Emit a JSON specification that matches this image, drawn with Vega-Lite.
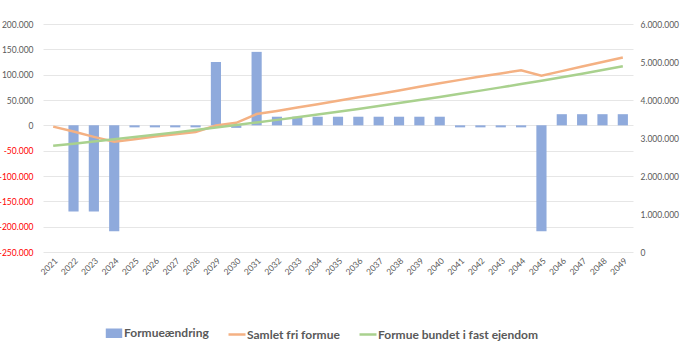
{
  "$schema": "https://vega.github.io/schema/vega-lite/v6.json",
  "width": 590,
  "height": 228,
  "autosize": {"type": "none"},
  "padding": {"left": 43, "top": 24, "right": 54, "bottom": 99},
  "background": "white",
  "config": {
    "locale": {"number": {"decimal": ",", "thousands": ".", "grouping": [3], "currency": ["", " kr."], "minus": "-"}},
    "view": {"stroke": null},
    "font": "Lato",
    "axis": {"labelFont": "Lato", "labelColor": "#595959", "labelFontSize": 8.5, "domain": false, "ticks": false, "title": null}
  },
  "datasets": {
    "main": [
      {"year": "2021", "series": "Formueændring", "value": 0},
      {"year": "2022", "series": "Formueændring", "value": -170000},
      {"year": "2023", "series": "Formueændring", "value": -170000},
      {"year": "2024", "series": "Formueændring", "value": -209000},
      {"year": "2025", "series": "Formueændring", "value": -4000},
      {"year": "2026", "series": "Formueændring", "value": -4000},
      {"year": "2027", "series": "Formueændring", "value": -4000},
      {"year": "2028", "series": "Formueændring", "value": -4000},
      {"year": "2029", "series": "Formueændring", "value": 125000},
      {"year": "2030", "series": "Formueændring", "value": -5000},
      {"year": "2031", "series": "Formueændring", "value": 145000},
      {"year": "2032", "series": "Formueændring", "value": 17000},
      {"year": "2033", "series": "Formueændring", "value": 17000},
      {"year": "2034", "series": "Formueændring", "value": 17000},
      {"year": "2035", "series": "Formueændring", "value": 17000},
      {"year": "2036", "series": "Formueændring", "value": 17000},
      {"year": "2037", "series": "Formueændring", "value": 17000},
      {"year": "2038", "series": "Formueændring", "value": 17000},
      {"year": "2039", "series": "Formueændring", "value": 17000},
      {"year": "2040", "series": "Formueændring", "value": 17000},
      {"year": "2041", "series": "Formueændring", "value": -4000},
      {"year": "2042", "series": "Formueændring", "value": -4000},
      {"year": "2043", "series": "Formueændring", "value": -4000},
      {"year": "2044", "series": "Formueændring", "value": -4000},
      {"year": "2045", "series": "Formueændring", "value": -209000},
      {"year": "2046", "series": "Formueændring", "value": 22000},
      {"year": "2047", "series": "Formueændring", "value": 22000},
      {"year": "2048", "series": "Formueændring", "value": 22000},
      {"year": "2049", "series": "Formueændring", "value": 22000},

      {"year": "2021", "series": "Samlet fri formue", "value": 3300000},
      {"year": "2022", "series": "Samlet fri formue", "value": 3170000},
      {"year": "2023", "series": "Samlet fri formue", "value": 3030000},
      {"year": "2024", "series": "Samlet fri formue", "value": 2900000},
      {"year": "2025", "series": "Samlet fri formue", "value": 2970000},
      {"year": "2026", "series": "Samlet fri formue", "value": 3040000},
      {"year": "2027", "series": "Samlet fri formue", "value": 3100000},
      {"year": "2028", "series": "Samlet fri formue", "value": 3160000},
      {"year": "2029", "series": "Samlet fri formue", "value": 3330000},
      {"year": "2030", "series": "Samlet fri formue", "value": 3400000},
      {"year": "2031", "series": "Samlet fri formue", "value": 3630000},
      {"year": "2032", "series": "Samlet fri formue", "value": 3710000},
      {"year": "2033", "series": "Samlet fri formue", "value": 3800000},
      {"year": "2034", "series": "Samlet fri formue", "value": 3890000},
      {"year": "2035", "series": "Samlet fri formue", "value": 3980000},
      {"year": "2036", "series": "Samlet fri formue", "value": 4070000},
      {"year": "2037", "series": "Samlet fri formue", "value": 4160000},
      {"year": "2038", "series": "Samlet fri formue", "value": 4250000},
      {"year": "2039", "series": "Samlet fri formue", "value": 4350000},
      {"year": "2040", "series": "Samlet fri formue", "value": 4440000},
      {"year": "2041", "series": "Samlet fri formue", "value": 4530000},
      {"year": "2042", "series": "Samlet fri formue", "value": 4620000},
      {"year": "2043", "series": "Samlet fri formue", "value": 4700000},
      {"year": "2044", "series": "Samlet fri formue", "value": 4780000},
      {"year": "2045", "series": "Samlet fri formue", "value": 4640000},
      {"year": "2046", "series": "Samlet fri formue", "value": 4760000},
      {"year": "2047", "series": "Samlet fri formue", "value": 4880000},
      {"year": "2048", "series": "Samlet fri formue", "value": 5000000},
      {"year": "2049", "series": "Samlet fri formue", "value": 5120000},

      {"year": "2021", "series": "Formue bundet i fast ejendom", "value": 2795000},
      {"year": "2022", "series": "Formue bundet i fast ejendom", "value": 2850000},
      {"year": "2023", "series": "Formue bundet i fast ejendom", "value": 2907000},
      {"year": "2024", "series": "Formue bundet i fast ejendom", "value": 2965000},
      {"year": "2025", "series": "Formue bundet i fast ejendom", "value": 3024000},
      {"year": "2026", "series": "Formue bundet i fast ejendom", "value": 3085000},
      {"year": "2027", "series": "Formue bundet i fast ejendom", "value": 3147000},
      {"year": "2028", "series": "Formue bundet i fast ejendom", "value": 3210000},
      {"year": "2029", "series": "Formue bundet i fast ejendom", "value": 3274000},
      {"year": "2030", "series": "Formue bundet i fast ejendom", "value": 3340000},
      {"year": "2031", "series": "Formue bundet i fast ejendom", "value": 3408000},
      {"year": "2032", "series": "Formue bundet i fast ejendom", "value": 3477000},
      {"year": "2033", "series": "Formue bundet i fast ejendom", "value": 3547000},
      {"year": "2034", "series": "Formue bundet i fast ejendom", "value": 3619000},
      {"year": "2035", "series": "Formue bundet i fast ejendom", "value": 3692000},
      {"year": "2036", "series": "Formue bundet i fast ejendom", "value": 3766000},
      {"year": "2037", "series": "Formue bundet i fast ejendom", "value": 3842000},
      {"year": "2038", "series": "Formue bundet i fast ejendom", "value": 3920000},
      {"year": "2039", "series": "Formue bundet i fast ejendom", "value": 3999000},
      {"year": "2040", "series": "Formue bundet i fast ejendom", "value": 4080000},
      {"year": "2041", "series": "Formue bundet i fast ejendom", "value": 4163000},
      {"year": "2042", "series": "Formue bundet i fast ejendom", "value": 4247000},
      {"year": "2043", "series": "Formue bundet i fast ejendom", "value": 4332000},
      {"year": "2044", "series": "Formue bundet i fast ejendom", "value": 4420000},
      {"year": "2045", "series": "Formue bundet i fast ejendom", "value": 4509000},
      {"year": "2046", "series": "Formue bundet i fast ejendom", "value": 4600000},
      {"year": "2047", "series": "Formue bundet i fast ejendom", "value": 4693000},
      {"year": "2048", "series": "Formue bundet i fast ejendom", "value": 4788000},
      {"year": "2049", "series": "Formue bundet i fast ejendom", "value": 4887000}
    ]
  },
  "data": {"name": "main"},
  "encoding": {
    "x": {
      "field": "year", "type": "ordinal",
      "scale": {"paddingInner": 0.5, "paddingOuter": 0.25},
      "axis": {"labelAngle": -45, "labelPadding": 4, "labelFontSize": 8.5}
    },
    "color": {
      "field": "series", "type": "nominal",
      "scale": {
        "domain": ["Formueændring", "Samlet fri formue", "Formue bundet i fast ejendom"],
        "range": ["#8FAADC", "#F4B183", "#A9D18E"]
      },
      "legend": {
        "orient": "none", "legendX": 61, "legendY": 299, "direction": "horizontal", "title": null,
        "symbolSize": 289, "symbolStrokeWidth": 2.5, "labelOffset": 0, "columnPadding": 14,
        "labelFont": "Lato", "labelFontSize": 12, "labelColor": "#595959", "labelFontWeight": "bold", "labelLimit": 400,
        "encode": {"symbols": {"update": {
          "shape": {"signal": "datum.value === 'Formueændring' ? 'M-0.82,-0.41H0.82V0.41H-0.82Z' : 'M-1,0H1'"},
          "fill": {"signal": "datum.value === 'Formueændring' ? '#8FAADC' : 'transparent'"},
          "stroke": {"signal": "datum.value === 'Samlet fri formue' ? '#F4B183' : (datum.value === 'Formue bundet i fast ejendom' ? '#A9D18E' : 'transparent')"},
          "strokeWidth": {"value": 2.5},
          "opacity": {"value": 1}
        }}}
      }
    }
  },
  "layer": [
    {
      "transform": [{"filter": "datum.series === 'Formueændring'"}],
      "mark": {"type": "bar"},
      "encoding": {
        "y": {
          "field": "value", "type": "quantitative",
          "scale": {"domain": [-250000, 200000], "nice": false, "zero": false},
          "axis": {
            "orient": "left", "grid": true, "gridColor": "#E6E6E6", "gridWidth": 1,
            "values": [-250000, -200000, -150000, -100000, -50000, 0, 50000, 100000, 150000, 200000],
            "format": ",d", "labelPadding": 10,
            "labelColor": {"condition": {"test": "datum.value < 0", "value": "#FF0000"}, "value": "#595959"}
          }
        }
      }
    },
    {
      "transform": [{"filter": "datum.series !== 'Formueændring'"}],
      "mark": {"type": "line", "strokeWidth": 2.5},
      "encoding": {
        "y": {
          "field": "value", "type": "quantitative",
          "scale": {"domain": [0, 6000000], "nice": false},
          "axis": {
            "orient": "right", "grid": false,
            "values": [0, 1000000, 2000000, 3000000, 4000000, 5000000, 6000000],
            "format": ",d", "labelPadding": 7
          }
        }
      }
    }
  ],
  "resolve": {"scale": {"y": "independent"}}
}
